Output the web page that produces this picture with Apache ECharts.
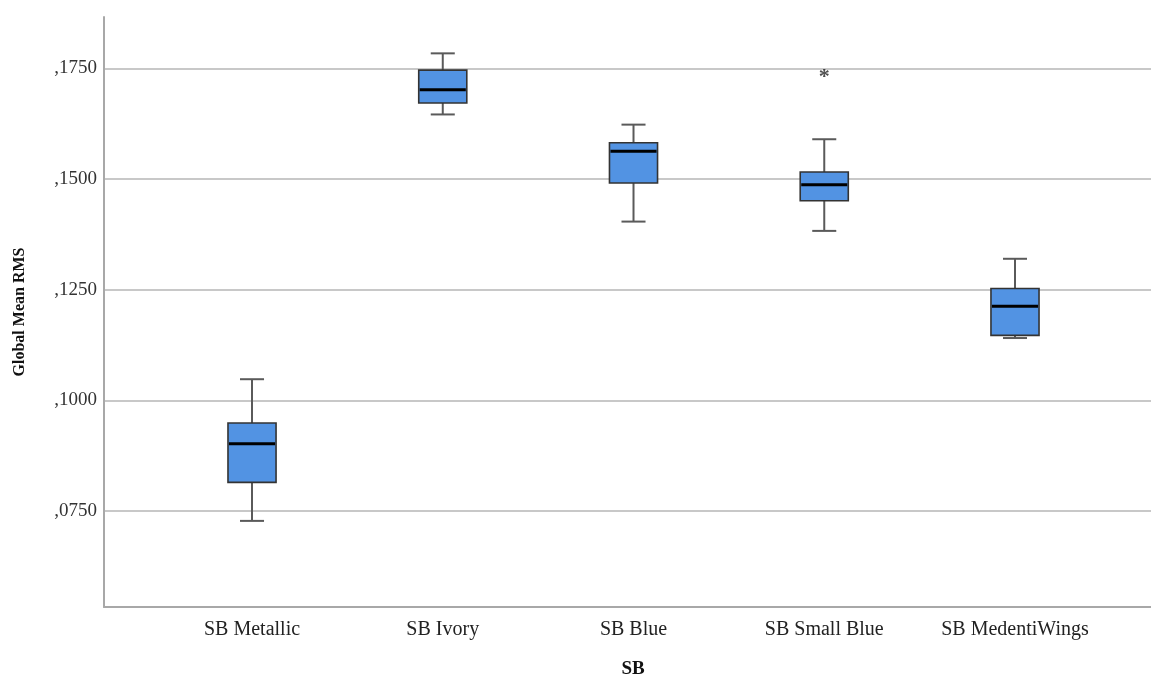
<!DOCTYPE html>
<html>
<head>
<meta charset="utf-8">
<script src="https://cdn.jsdelivr.net/npm/echarts@6/dist/echarts.min.js"></script>
<style>html,body{margin:0;padding:0;background:#ffffff;overflow:hidden;}#c{width:1151px;height:684px;}</style>
</head>
<body>
<div id="c"></div>
<script>
const categories = ['SB Metallic', 'SB Ivory', 'SB Blue', 'SB Small Blue', 'SB MedentiWings'];
const whiskerLow  = [0.0728, 0.1646, 0.1404, 0.1383, 0.1141];
const q1          = [0.0815, 0.1672, 0.1491, 0.1451, 0.1147];
const median      = [0.0902, 0.1702, 0.1563, 0.1487, 0.1213];
const q3          = [0.0949, 0.1746, 0.1582, 0.1516, 0.1253];
const whiskerHigh = [0.1048, 0.1784, 0.1623, 0.1590, 0.1320];
const outlierCat  = [3];
const outlierVal  = [0.1738];
const yTicks      = [0.075, 0.1, 0.125, 0.15, 0.175];
const yTickLabels = [',0750', ',1000', ',1250', ',1500', ',1750'];
const xTicks      = [0, 1, 2, 3, 4];

const FONT = 'Liberation Serif';
const chart = echarts.init(document.getElementById('c'), null, { width: 1151, height: 684 });

const boxData = categories.map((c, i) => [i, whiskerLow[i], q1[i], median[i], q3[i], whiskerHigh[i]]);
const outData = outlierCat.map((c, i) => [c, outlierVal[i]]);

function renderBox(params, api) {
  const x = api.value(0);
  const pLow = api.coord([x, api.value(1)]);
  const pQ1 = api.coord([x, api.value(2)]);
  const pMed = api.coord([x, api.value(3)]);
  const pQ3 = api.coord([x, api.value(4)]);
  const pHigh = api.coord([x, api.value(5)]);
  const unit = api.size([1, 0])[0];
  const bw = unit * 0.252;
  const cw = bw / 2;
  const cx = pMed[0];
  const wStyle = { stroke: '#5a5a5a', lineWidth: 2 };
  return {
    type: 'group',
    children: [
      { type: 'line', shape: { x1: cx, y1: pLow[1], x2: cx, y2: pQ1[1] }, style: wStyle },
      { type: 'line', shape: { x1: cx, y1: pQ3[1], x2: cx, y2: pHigh[1] }, style: wStyle },
      { type: 'line', shape: { x1: cx - cw / 2, y1: pLow[1], x2: cx + cw / 2, y2: pLow[1] }, style: wStyle },
      { type: 'line', shape: { x1: cx - cw / 2, y1: pHigh[1], x2: cx + cw / 2, y2: pHigh[1] }, style: wStyle },
      { type: 'rect', shape: { x: cx - bw / 2, y: pQ3[1], width: bw, height: pQ1[1] - pQ3[1] },
        style: { fill: '#5293e3', stroke: '#333333', lineWidth: 1.6 } },
      { type: 'line', shape: { x1: cx - bw / 2 + 1, y1: pMed[1], x2: cx + bw / 2 - 1, y2: pMed[1] },
        style: { stroke: '#000000', lineWidth: 3 } }
    ]
  };
}

chart.setOption({
  animation: false,
  backgroundColor: '#ffffff',
  grid: { left: 104, right: 0, top: 17, bottom: 70, containLabel: false },
  xAxis: {
    type: 'value',
    min: -0.776,
    max: 4.713,
    name: 'SB',
    nameLocation: 'middle',
    nameGap: 53,
    nameTextStyle: { fontFamily: FONT, fontWeight: 'bold', fontSize: 19, color: '#111', padding: [0, 0, 0, 11] },
    axisLine: { show: true, onZero: false, lineStyle: { color: '#a8a8a8', width: 2 } },
    axisTick: { show: false, customValues: xTicks },
    splitLine: { show: false },
    axisLabel: {
      customValues: xTicks,
      margin: 13,
      fontFamily: FONT, fontSize: 20, color: '#222',
      formatter: v => categories[Math.round(v)]
    }
  },
  yAxis: {
    type: 'value',
    min: 0.05335,
    max: 0.18661,
    name: 'Global Mean RMS',
    nameLocation: 'middle',
    nameGap: 76,
    nameTextStyle: { fontFamily: FONT, fontWeight: 'bold', fontSize: 16, color: '#111' },
    axisLine: { show: true, onZero: false, lineStyle: { color: '#a8a8a8', width: 2 } },
    axisTick: { show: false, customValues: yTicks },
    splitLine: { show: true, lineStyle: { color: '#c8c8c8', width: 2 } },
    axisLabel: {
      customValues: yTicks,
      margin: 7,
      fontFamily: FONT, fontSize: 19, color: '#333',
      formatter: v => {
        let best = 0;
        yTicks.forEach((t, i) => { if (Math.abs(t - v) < Math.abs(yTicks[best] - v)) best = i; });
        return yTickLabels[best];
      }
    }
  },
  series: [
    {
      type: 'custom',
      renderItem: renderBox,
      data: boxData,
      encode: { x: 0, y: [1, 2, 3, 4, 5] },
      z: 5
    },
    {
      type: 'scatter',
      data: outData,
      symbolSize: 0,
      label: {
        show: true, position: 'inside', formatter: '*',
        fontFamily: FONT, fontWeight: 'bold', fontSize: 22, color: '#222', offset: [0, 4]
      },
      z: 6
    }
  ]
});
</script>
</body>
</html>
